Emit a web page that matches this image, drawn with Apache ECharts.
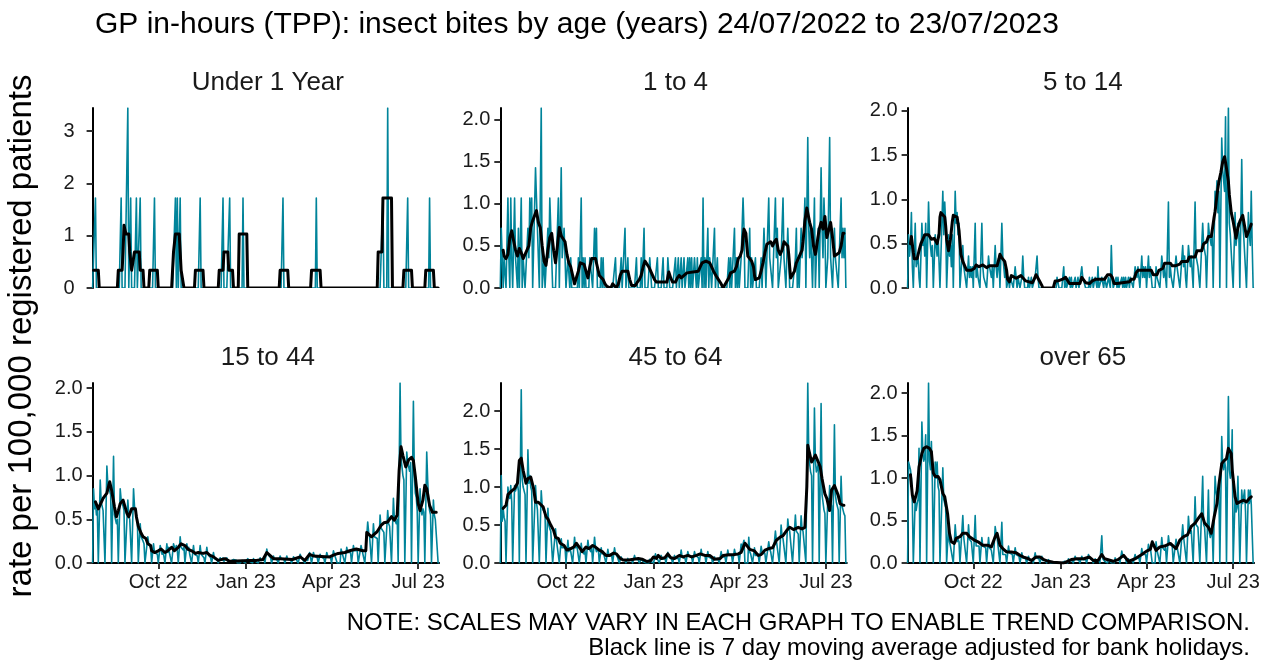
<!DOCTYPE html>
<html><head><meta charset="utf-8">
<script src="https://cdn.jsdelivr.net/npm/echarts@6/dist/echarts.min.js"></script>
<style>html,body{margin:0;padding:0;background:#fff}#c{width:1264px;height:660px}</style>
</head><body><div id="c"></div>
<script>
const mainTitle = 'GP in-hours (TPP): insect bites by age (years) 24/07/2022 to 23/07/2023';
const yAxisTitle = 'rate per 100,000 registered patients';
const footNote1 = 'NOTE: SCALES MAY VARY IN EACH GRAPH TO ENABLE TREND COMPARISON.';
const footNote2 = 'Black line is 7 day moving average adjusted for bank holidays.';
const startDate = '2022-07-24';
const panelNames = ['Under 1 Year', '1 to 4', '5 to 14', '15 to 44', '45 to 64', 'over 65'];
const xTickDates = ['2022-10-01', '2023-01-01', '2023-04-01', '2023-07-01'];
const xTickLabels = ['Oct 22', 'Jan 23', 'Apr 23', 'Jul 23'];
const yTicksUnder1 = [0, 1, 2, 3];
const yTicksOther = [0, 0.5, 1, 1.5, 2];

// daily rates, one line per week (Sun..Sat), starting Sun 24/07/2022
const dailyUnder1 = [
0,0,0,1.72,0,0,0,
0,0,0,0,0,0,0,
0,0,0,0,0,0,0,
0,0,0,0,0,0,0,
0,0,1.72,0,0,0,0,
0,0,3.44,0,0,1.72,0,
0,0,0,0,1.72,0,0,
0,1.72,0,0,0,0,0,
0,0,0,0,0,0,0,
0,0,1.72,0,0,0,0,
0,0,0,0,0,0,0,
0,0,0,0,0,0,0,
0,0,0,1.72,0,1.72,0,
0,1.72,0,0,0,0,0,
0,0,0,0,0,0,0,
0,0,0,0,0,0,0,
0,1.72,0,0,0,0,0,
0,0,0,0,0,0,0,
0,0,0,0,0,0,0,
0,0,0,0,1.72,0,0,
0,0,0,0,1.72,0,0,
0,0,0,0,0,0,0,
0,0,0,0,1.72,0,0,
0,0,0,0,0,0,0,
0,0,0,0,0,0,0,
0,0,0,0,0,0,0,
0,0,0,0,0,0,0,
0,0,0,0,0,0,0,
0,0,0,0,1.72,0,0,
0,0,0,0,0,0,0,
0,0,0,0,0,0,0,
0,0,0,0,0,0,0,
0,0,0,0,0,0,0,
0,0,0,0,1.72,0,0,
0,0,0,0,0,0,0,
0,0,0,0,0,0,0,
0,0,0,0,0,0,0,
0,0,0,0,0,0,0,
0,0,0,0,0,0,0,
0,0,0,0,0,0,0,
0,0,0,0,0,0,0,
0,0,0,0,0,0,0,
0,0,0,0,0,0,0,
0,0,0,0,1.72,0,0,
0,0,3.44,0,0,0,0,
0,0,0,0,0,0,0,
0,0,0,0,0,0,0,
0,0,1.72,0,0,0,0,
0,0,0,0,0,0,0,
0,0,0,0,0,0,0,
0,0,0,0,1.72,0,0,
0,0,0,0,0,0,0,
0];

const daily1to4 = [
0,0.71,0.71,0,0.36,0.36,0,
0,1.07,0.36,0,1.07,0.36,0,
0,1.07,0.36,0.36,0,0.71,0,
0,1.07,0,0.36,0.36,0,0,
0,0.71,0.36,1.07,0.71,1.07,0,
0,0,1.43,1.07,0.71,0.36,0,
0,2.14,0,0,0.36,0,0,
0,0.71,0.36,1.07,0.71,0.36,0,
0,0,0,0.36,0.71,1.07,0,
0,1.43,0.36,0.36,0.71,0.36,0,
0,0.36,0.36,0,0.36,0,0,
0,0,0,0,0,0.36,0,
0,1.07,0,0.36,0,0.36,0,
0,0,0,0.36,0.36,0.36,0,
0,0.71,0.36,0.71,0,0,0,
0,0.36,0,0.36,0,0,0,
0,0,0,0,0,0,0,
0,0,0.36,0,0,0,0,
0,0.36,0,0,0,0.71,0,
0,0.36,0,0,0,0,0,
0,0,0,0.36,0,0,0,
0,0.36,0,0.36,0.71,0,0,
0,0,0,0.36,0.36,0,0,
0,0,0,0,0.36,0,0,
0,0,0,0.36,0,0,0,
0,0.36,0.36,0,0,0,0,
0,0,0.36,0,0,0.36,0,
0,0.36,0,0,0.36,0,0,
0,0.36,0,0.36,0,0.36,0,
0,0.36,0.36,0,0.36,0,0,
0,0.36,0,1.07,0,0.36,0,
0,0.71,0,0.36,0.36,0,0,
0,0.71,0,0,0.36,0,0,
0,0,0,0,0,0,0,
0,0,0.36,0,0.36,0,0,
0,0.71,0,0.36,0,0.36,0,
0,0.36,0.71,1.07,0.71,0,0,
0,0,0.36,0.71,0,0.36,0,
0,0,0.36,0,0,0,0,
0,0.36,0,0.36,0.71,0.36,0,
0,0,1.07,0.36,0.36,0.36,0,
0,0,1.07,0.36,0.71,0,0,
0,0.36,0.36,1.07,0.36,0.36,0,
0,0.71,0.36,0,0,0,0,
0,0,0.36,0.71,0,0.36,0,
0,0.71,0.36,0.36,0.71,1.07,0,
0,1.79,0.71,0.36,0.71,0.36,0,
0,1.07,0,0.36,0.36,0.71,0,
0,1.43,0.71,0.36,1.07,0.71,0,
0,0.36,0.36,1.79,0.36,0.36,0,
0,0.71,0.36,0.36,0.36,0,0,
0,1.07,0.36,0.71,0.36,0.71,0,
0];

const daily5to14 = [
0,0.6,0.36,0.48,0.85,0.24,0,
0,0.73,0.24,0.24,0.36,0.12,0,
0,0.73,0.48,0.6,0.36,0.73,0,
0,0.97,0.6,0.48,0.36,0.48,0,
0,0.6,0.48,0.36,0.6,0.6,0,
0,0,1.09,0.6,0.97,0.73,0,
0,0.6,0.36,0.48,0.24,0.6,0,
0,1.09,0.73,0.85,0.6,0.73,0,
0,0,0.48,0.24,0.24,0.24,0,
0,0.36,0.12,0.24,0.12,0.24,0,
0,0.73,0.12,0.24,0.12,0.12,0,
0,0.73,0.24,0.12,0.12,0.12,0,
0,0.36,0.24,0.24,0.12,0.24,0,
0,0.48,0.24,0.12,0.24,0.36,0,
0,0.73,0.36,0.24,0.12,0.24,0,
0,0.12,0,0.12,0.12,0.12,0,
0,0.24,0.12,0,0.12,0.12,0,
0,0.12,0.36,0.12,0,0,0,
0,0.12,0,0,0.12,0,0,
0,0.12,0.12,0.36,0.12,0,0,
0,0,0,0,0,0,0,
0,0,0,0,0,0,0,
0,0,0,0.12,0.12,0,0,
0,0,0.12,0.24,0,0.12,0,
0,0,0.12,0,0.12,0,0,
0,0.12,0,0,0.12,0,0,
0,0.24,0.12,0.12,0.12,0,0,
0,0,0.12,0,0,0.12,0,
0,0.12,0.12,0,0.24,0,0,
0,0.12,0.12,0,0.12,0.12,0,
0,0.12,0.12,0,0.48,0.12,0,
0,0,0.12,0,0.12,0,0,
0,0.12,0,0.12,0,0.12,0,
0,0.12,0,0.12,0.12,0.12,0,
0,0.24,0.24,0.12,0.24,0.12,0,
0,0.36,0.12,0.24,0.12,0.24,0,
0,0.36,0.12,0.24,0.12,0,0,
0,0,0.24,0.12,0.12,0.12,0,
0,0.36,0.24,0.12,0.24,0.24,0,
0,0.97,0.12,0.24,0.12,0.12,0,
0,0,0.36,0.24,0.24,0.24,0,
0,0,0.48,0.24,0.36,0.12,0,
0,0.48,0.36,0.24,0.36,0.36,0,
0,0.97,0.36,0.36,0.24,0.24,0,
0,0,0.73,0.48,0.48,0.36,0,
0,0.73,0.6,0.6,0.48,0.6,0,
0,1.09,0.97,1.21,0.85,1.09,0,
0,1.69,1.33,1.33,1.09,1.93,0,
0,2.03,0.73,0.6,0.6,0.6,0,
0,0.85,0.48,0.6,0.73,0.6,0,
0,1.45,0.73,0.6,0.6,0.6,0,
0,0.85,0.6,0.48,1.09,0.48,0,
0];

const daily15to44 = [
0,0.85,0.62,0.7,0.55,0.6,0,
0,0.95,0.7,0.65,0.6,0.58,0,
0,1.11,0.9,0.85,0.82,0.78,0,
0,1.22,0.55,0.5,0.45,0.5,0,
0,0.85,0.72,0.68,0.65,0.6,0,
0,0,0.72,0.55,0.5,0.48,0,
0,0.85,0.65,0.6,0.55,0.5,0,
0,0.45,0.3,0.28,0.25,0.22,0,
0,0,0.3,0.22,0.2,0.18,0,
0,0.22,0.12,0.14,0.1,0.1,0,
0,0.2,0.15,0.1,0.14,0.12,0,
0,0.22,0.12,0.18,0.1,0.12,0,
0,0.22,0.18,0.15,0.2,0.14,0,
0,0.3,0.18,0.2,0.15,0.18,0,
0,0.22,0.15,0.18,0.1,0.12,0,
0,0.2,0.1,0.08,0.12,0.08,0,
0,0.2,0.1,0.12,0.08,0.06,0,
0,0.18,0.1,0.08,0.1,0.06,0,
0,0.12,0.05,0.04,0.06,0.03,0,
0,0.06,0.05,0.03,0.06,0.02,0,
0,0.06,0.02,0.03,0.02,0.02,0,
0,0.04,0.02,0.02,0.03,0,0,
0,0,0,0.03,0.02,0.02,0,
0,0,0.05,0.03,0.02,0.03,0,
0,0.05,0.04,0.02,0.03,0.02,0,
0,0.06,0.03,0.04,0.02,0.04,0,
0,0.16,0.1,0.08,0.1,0.06,0,
0,0.08,0.05,0.04,0.05,0.03,0,
0,0.08,0.05,0.04,0.05,0.04,0,
0,0.08,0.04,0.06,0.03,0.04,0,
0,0.07,0.05,0.05,0.04,0.04,0,
0,0.1,0.08,0.05,0.06,0.05,0,
0,0.06,0.03,0.08,0.12,0.1,0,
0,0.12,0.08,0.06,0.07,0.06,0,
0,0.1,0.07,0.06,0.07,0.05,0,
0,0.12,0.08,0.06,0.08,0.06,0,
0,0.14,0.1,0.08,0.1,0,0,
0,0,0.16,0.12,0.1,0.1,0,
0,0.18,0.12,0.14,0.1,0.12,0,
0,0.2,0.14,0.15,0.12,0.14,0,
0,0,0.2,0.15,0.13,0.14,0,
0,0,0.47,0.35,0.3,0.3,0,
0,0.45,0.3,0.28,0.32,0.28,0,
0,0.55,0.4,0.42,0.38,0.35,0,
0,0,0.6,0.45,0.42,0.4,0,
0,0.74,0.5,0.48,0.45,0.5,0,
0,2.06,1.2,1.1,1.0,0.95,0,
0,1.27,1.15,1.1,1.05,1.15,0,
0,1.85,1.0,0.8,0.75,0.6,0,
0,0.85,0.6,0.55,0.62,0.58,0,
0,1.27,0.95,0.7,0.6,0.55,0,
0,0.72,0.55,0.5,0.52,0.5,0,
0];

const daily45to64 = [
0,1.15,0.55,0.72,0.6,0.55,0,
0,1.0,0.9,0.85,1.02,0.8,0,
0,1.02,0.95,1.0,1.05,0.95,0,
0,2.28,1.1,1.0,1.02,0.9,0,
0,1.49,1.05,1.15,1.0,0.95,0,
0,0,1.02,0.8,0.7,0.72,0,
0,0.95,0.75,0.7,0.68,0.65,0,
0,0.72,0.5,0.45,0.42,0.4,0,
0,0,0.45,0.3,0.3,0.28,0,
0,0.32,0.2,0.22,0.18,0.2,0,
0,0.3,0.15,0.2,0.15,0.15,0,
0,0.34,0.2,0.25,0.18,0.18,0,
0,0.26,0.15,0.15,0.12,0.16,0,
0,0.3,0.2,0.18,0.15,0.2,0,
0,0.34,0.2,0.15,0.15,0.18,0,
0,0.2,0.12,0.15,0.1,0.08,0,
0,0.18,0.1,0.08,0.1,0.1,0,
0,0.2,0.12,0.1,0.08,0.1,0,
0,0.08,0.05,0.04,0.05,0.03,0,
0,0.06,0.03,0.05,0.03,0.04,0,
0,0.1,0.05,0.05,0.06,0.04,0,
0,0.05,0.03,0.02,0.03,0.02,0,
0,0,0,0.05,0.02,0.03,0,
0,0,0.12,0.08,0.06,0.08,0,
0,0.1,0.05,0.06,0.04,0.06,0,
0,0.14,0.08,0.06,0.06,0.05,0,
0,0.1,0.06,0.08,0.05,0.06,0,
0,0.17,0.08,0.06,0.08,0.06,0,
0,0.15,0.1,0.08,0.1,0.08,0,
0,0.15,0.1,0.08,0.1,0.07,0,
0,0.18,0.1,0.1,0.08,0.1,0,
0,0.15,0.08,0.08,0.07,0.06,0,
0,0.08,0.05,0.04,0.05,0.04,0,
0,0.15,0.08,0.08,0.07,0.08,0,
0,0.17,0.1,0.1,0.08,0.1,0,
0,0.18,0.12,0.1,0.1,0.1,0,
0,0.25,0.2,0.22,0.3,0,0,
0,0,0.34,0.15,0.12,0.12,0,
0,0.2,0.1,0.12,0.08,0.1,0,
0,0.22,0.15,0.12,0.15,0.12,0,
0,0,0.28,0.18,0.15,0.16,0,
0,0,0.42,0.3,0.3,0.28,0,
0,0.5,0.35,0.32,0.3,0.32,0,
0,0.58,0.45,0.42,0.4,0.4,0,
0,0,0.63,0.42,0.4,0.38,0,
0,0.62,0.45,0.42,0.4,0.43,0,
0,2.37,1.5,1.3,1.2,1.15,0,
0,2.04,1.35,1.2,1.25,1.3,0,
0,2.1,0.9,0.8,0.7,0.65,0,
0,0.85,0.7,1.02,0.8,0.75,0,
0,1.82,0.9,0.8,0.75,0.7,0,
0,1.14,0.75,0.7,0.65,0.62,0,
0];

const dailyOver65 = [
0,1.19,1.19,1.1,1.0,0.7,0,
0,0.75,0.62,0.7,0.75,1.35,0,
0,1.66,1.3,1.2,1.25,1.51,0,
0,2.12,1.2,1.1,1.43,0.95,0,
0,1.19,1.0,1.19,0.9,0.85,0,
0,0,1.12,0.75,0.7,0.65,0,
0,0.45,0.25,0.2,0.22,0.2,0,
0,0.45,0.3,0.25,0.28,0.25,0,
0,0,0.56,0.3,0.28,0.3,0,
0,0.45,0.28,0.3,0.25,0.25,0,
0,0.56,0.2,0.2,0.18,0.2,0,
0,0.3,0.2,0.18,0.2,0.18,0,
0,0.3,0.18,0.2,0.15,0.17,0,
0,0.43,0.35,0.3,0.28,0.3,0,
0,0.48,0.1,0.12,0.08,0.1,0,
0,0.2,0.12,0.1,0.12,0.1,0,
0,0.18,0.1,0.08,0.1,0.08,0,
0,0.12,0.06,0.05,0.07,0.05,0,
0,0.08,0.03,0.03,0.02,0.04,0,
0,0.12,0.06,0.07,0.05,0.05,0,
0,0.08,0.03,0.03,0.02,0.03,0,
0,0.04,0.02,0,0.02,0,0,
0,0,0,0,0,0,0,
0,0,0,0,0.02,0,0,
0,0.05,0.02,0.03,0.02,0.03,0,
0,0.08,0.05,0.04,0.05,0.03,0,
0,0.08,0.04,0.05,0.04,0.04,0,
0,0.1,0.06,0.05,0.05,0.04,0,
0,0.05,0.02,0.03,0.02,0.03,0,
0,0.32,0.05,0.03,0.02,0.02,0,
0,0.04,0.02,0.02,0,0.02,0,
0,0.06,0.03,0.04,0.03,0.04,0,
0,0.14,0.08,0.06,0.07,0.05,0,
0,0.05,0.02,0.03,0.02,0.03,0,
0,0.1,0.05,0.06,0.05,0.06,0,
0,0.17,0.1,0.1,0.09,0.1,0,
0,0.22,0.15,0.18,0.2,0,0,
0,0,0.25,0.15,0.15,0.14,0,
0,0.3,0.18,0.2,0.15,0.18,0,
0,0.32,0.22,0.2,0.22,0.2,0,
0,0,0.28,0.2,0.18,0.2,0,
0,0,0.45,0.3,0.28,0.3,0,
0,0.55,0.4,0.35,0.38,0.36,0,
0,0.78,0.45,0.45,0.42,0.4,0,
0,0,1.02,0.45,0.42,0.4,0,
0,0.86,0.35,0.3,0.32,0.4,0,
0,1.02,0.85,0.78,0.8,0.9,0,
0,1.49,1.15,1.1,1.2,1.12,0,
0,1.96,1.1,1.0,1.05,1.57,0,
0,0.78,0.6,0.65,1.02,0.55,0,
0,0.86,0.7,0.68,0.86,0.6,0,
0,0.86,0.7,0.86,0.7,0.68,0,
0];

// 7 day moving average: [day since 24/07/2022, rate]
const maUnder1 = [[1,0.34],[6,0.34],[7,0],[26,0],[27,0.34],[31,0.34],[32,0.69],[33,1.2],[34,1.2],[35,1.03],[38,1.03],[39,0.69],[40,0.69],[41,0.34],[43,0.34],[44,0.69],[49,0.69],[50,0.34],[53,0.34],[54,0],[59,0],[60,0.34],[68,0.34],[69,0],[83,0],[84,0.34],[85,0.69],[86,0.69],[87,1.03],[91,1.03],[92,0.69],[93,0.34],[95,0.34],[96,0],[107,0],[108,0.34],[116,0.34],[117,0],[132,0],[133,0.34],[137,0.34],[138,0.69],[142,0.69],[143,0.34],[147,0.34],[148,0],[153,0],[154,1.03],[162,1.03],[163,0],[196,0],[197,0.34],[205,0.34],[206,0],[229,0],[230,0.34],[239,0.34],[240,0],[299,0],[300,0.69],[304,0.69],[305,1.72],[314,1.72],[315,0],[326,0],[327,0.34],[335,0.34],[336,0],[349,0],[350,0.34],[358,0.34],[359,0],[363,0]];
const ma1to4 = [[3,0.45],[4,0.38],[6,0.35],[8,0.4],[10,0.6],[12,0.68],[14,0.56],[16,0.45],[18,0.38],[20,0.47],[22,0.42],[24,0.35],[26,0.4],[28,0.45],[30,0.5],[32,0.72],[34,0.8],[36,0.8],[38,0.92],[40,0.78],[42,0.72],[44,0.5],[46,0.32],[48,0.27],[50,0.45],[52,0.6],[54,0.65],[56,0.45],[58,0.3],[60,0.5],[62,0.72],[64,0.62],[66,0.6],[68,0.55],[70,0.4],[72,0.3],[74,0.25],[76,0.15],[78,0.05],[80,0.05],[82,0.2],[84,0.3],[86,0.3],[88,0.28],[90,0.2],[92,0.12],[94,0.25],[96,0.35],[98,0.33],[100,0.35],[102,0.25],[104,0.15],[106,0.15],[108,0.1],[110,0.05],[112,0.02],[114,0],[116,0],[118,0.05],[120,0.05],[122,0],[124,0.05],[126,0.15],[128,0.2],[130,0.2],[134,0.2],[136,0.1],[138,0.03],[140,0.05],[142,0.03],[144,0.07],[146,0.1],[148,0.15],[150,0.25],[152,0.32],[154,0.3],[156,0.25],[158,0.2],[160,0.15],[162,0.1],[164,0.07],[175,0.07],[177,0.19],[179,0.12],[181,0.07],[184,0.07],[186,0.12],[188,0.15],[190,0.12],[193,0.15],[196,0.18],[198,0.2],[208,0.2],[210,0.25],[212,0.3],[216,0.32],[220,0.3],[222,0.25],[224,0.2],[226,0.18],[228,0.12],[230,0.1],[232,0.05],[234,0],[236,0.02],[238,0.08],[240,0.12],[242,0.18],[244,0.2],[246,0.2],[248,0.25],[250,0.35],[252,0.38],[254,0.45],[255,0.6],[256,0.7],[258,0.65],[259,0.5],[260,0.38],[262,0.35],[264,0.32],[266,0.25],[267,0.15],[268,0.1],[270,0.1],[272,0.12],[274,0.2],[276,0.3],[278,0.42],[280,0.52],[284,0.55],[286,0.5],[288,0.55],[290,0.58],[292,0.45],[294,0.4],[296,0.45],[298,0.55],[302,0.5],[303,0.4],[304,0.25],[305,0.12],[307,0.1],[309,0.2],[311,0.3],[313,0.35],[315,0.4],[317,0.45],[318,0.55],[320,0.8],[322,0.95],[323,0.95],[325,0.78],[327,0.7],[329,0.5],[331,0.4],[333,0.55],[335,0.7],[337,0.78],[339,0.7],[341,0.85],[343,0.6],[345,0.6],[347,0.78],[349,0.6],[351,0.38],[353,0.38],[356,0.42],[358,0.5],[360,0.65],[361,0.65]];
const ma5to14 = [[3,0.5],[4,0.58],[6,0.4],[7,0.33],[10,0.33],[12,0.42],[14,0.5],[16,0.55],[18,0.6],[20,0.62],[22,0.6],[25,0.55],[28,0.56],[31,0.5],[32,0.52],[33,0.6],[34,0.8],[35,0.85],[37,0.84],[39,0.8],[40,0.7],[41,0.55],[43,0.42],[45,0.55],[47,0.75],[48,0.82],[52,0.8],[53,0.78],[54,0.65],[56,0.38],[58,0.3],[60,0.25],[62,0.2],[67,0.2],[70,0.22],[72,0.26],[75,0.24],[79,0.26],[83,0.23],[86,0.25],[90,0.25],[94,0.25],[96,0.33],[97,0.38],[99,0.34],[102,0.3],[104,0.2],[105,0.1],[107,0.07],[109,0.14],[111,0.15],[114,0.11],[116,0.11],[119,0.14],[121,0.13],[124,0.08],[126,0.07],[131,0.06],[133,0.1],[135,0.15],[137,0.14],[139,0.07],[141,0.03],[142,0],[153,0],[155,0.08],[158,0.08],[160,0.1],[163,0.1],[166,0.12],[168,0.1],[170,0.05],[177,0.05],[179,0.07],[181,0.05],[183,0.12],[185,0.13],[187,0.06],[191,0.05],[194,0.08],[196,0.07],[198,0.1],[207,0.1],[210,0.15],[213,0.15],[215,0.12],[217,0.05],[220,0.05],[222,0.07],[233,0.07],[235,0.1],[238,0.1],[240,0.17],[242,0.2],[256,0.2],[258,0.15],[262,0.15],[264,0.2],[266,0.22],[268,0.22],[270,0.28],[276,0.28],[278,0.25],[281,0.25],[283,0.27],[286,0.27],[288,0.3],[294,0.3],[296,0.35],[302,0.35],[304,0.42],[309,0.42],[311,0.5],[314,0.52],[316,0.58],[319,0.58],[320,0.65],[322,0.8],[323,0.86],[325,1.05],[327,1.2],[329,1.3],[331,1.42],[333,1.48],[335,1.35],[337,1.2],[338,1.05],[340,0.85],[342,0.75],[344,0.63],[345,0.56],[347,0.68],[349,0.75],[352,0.82],[354,0.7],[356,0.58],[357,0.56],[359,0.66],[361,0.72]];
const ma15to44 = [[3,0.7],[4,0.68],[6,0.62],[8,0.6],[11,0.74],[15,0.8],[17,0.89],[18,0.93],[20,0.83],[23,0.64],[25,0.53],[27,0.6],[29,0.68],[32,0.72],[34,0.71],[36,0.57],[38,0.53],[41,0.62],[43,0.64],[45,0.62],[46,0.53],[48,0.42],[51,0.34],[53,0.3],[56,0.28],[58,0.22],[61,0.2],[62,0.14],[65,0.12],[69,0.14],[72,0.16],[76,0.12],[79,0.14],[83,0.18],[86,0.14],[90,0.18],[93,0.22],[97,0.2],[100,0.16],[104,0.14],[108,0.11],[111,0.12],[116,0.11],[120,0.12],[123,0.09],[127,0.07],[132,0.03],[134,0.04],[139,0.05],[144,0.02],[165,0.03],[172,0.03],[179,0.04],[183,0.12],[186,0.09],[190,0.05],[197,0.05],[210,0.04],[218,0.07],[223,0.03],[228,0.1],[232,0.08],[249,0.07],[253,0.09],[258,0.11],[265,0.12],[270,0.14],[277,0.16],[284,0.14],[287,0.14],[288,0.35],[290,0.35],[293,0.3],[296,0.33],[299,0.36],[303,0.43],[306,0.46],[310,0.47],[314,0.53],[317,0.49],[320,0.55],[322,1.06],[324,1.33],[326,1.23],[329,1.1],[332,1.18],[335,1.21],[337,1.17],[339,0.99],[342,0.68],[344,0.6],[347,0.72],[349,0.89],[351,0.85],[354,0.66],[357,0.58],[359,0.56],[361,0.58]];
const ma45to64 = [[3,0.72],[6,0.76],[8,0.9],[12,0.95],[15,0.98],[18,1.05],[20,1.35],[22,1.38],[24,1.22],[27,1.05],[29,1.11],[32,1.13],[35,0.98],[37,0.8],[40,0.8],[42,0.82],[45,0.74],[48,0.61],[50,0.58],[53,0.5],[56,0.43],[58,0.34],[61,0.32],[63,0.26],[67,0.23],[70,0.17],[74,0.19],[77,0.21],[80,0.26],[84,0.19],[86,0.15],[90,0.21],[93,0.19],[97,0.23],[100,0.21],[104,0.17],[107,0.15],[111,0.1],[115,0.1],[119,0.13],[122,0.12],[126,0.06],[129,0.04],[135,0.04],[140,0.05],[145,0.06],[149,0.05],[154,0.02],[158,0.03],[161,0.08],[164,0.06],[166,0.1],[169,0.06],[173,0.07],[176,0.12],[179,0.07],[183,0.06],[188,0.1],[192,0.08],[197,0.1],[201,0.08],[206,0.1],[210,0.12],[215,0.1],[220,0.1],[225,0.05],[231,0.06],[234,0.1],[240,0.11],[245,0.11],[250,0.12],[253,0.14],[257,0.26],[259,0.23],[262,0.18],[267,0.16],[271,0.1],[274,0.11],[278,0.17],[282,0.19],[286,0.2],[290,0.3],[294,0.34],[297,0.36],[301,0.43],[304,0.47],[308,0.44],[313,0.47],[317,0.45],[320,0.47],[322,1.0],[323,1.55],[325,1.53],[327,1.33],[329,1.31],[331,1.42],[333,1.44],[336,1.27],[338,1.11],[341,0.91],[343,0.85],[346,0.69],[348,0.96],[351,1.02],[353,1.0],[355,0.89],[357,0.78],[360,0.76],[361,0.76]];
const maOver65 = [[3,1.04],[5,0.8],[7,0.72],[8,0.7],[10,0.85],[12,1.13],[15,1.29],[17,1.35],[20,1.37],[23,1.35],[25,1.31],[27,1.06],[29,1.02],[32,1.02],[34,0.98],[37,0.82],[39,0.78],[42,0.58],[44,0.35],[46,0.25],[49,0.23],[51,0.29],[55,0.31],[58,0.35],[62,0.35],[65,0.31],[70,0.27],[74,0.25],[79,0.21],[84,0.21],[88,0.19],[92,0.31],[94,0.35],[97,0.21],[100,0.17],[104,0.13],[109,0.13],[114,0.12],[118,0.09],[122,0.07],[127,0.05],[130,0.03],[135,0.07],[139,0.07],[143,0.04],[148,0.02],[153,0.01],[155,0],[164,0],[172,0.04],[178,0.05],[185,0.05],[191,0.07],[195,0.03],[200,0.03],[204,0.1],[207,0.05],[216,0.02],[221,0.04],[227,0.09],[232,0.02],[239,0.05],[246,0.1],[251,0.14],[255,0.16],[257,0.25],[261,0.15],[265,0.19],[270,0.2],[276,0.23],[278,0.24],[282,0.17],[286,0.27],[290,0.31],[294,0.33],[298,0.43],[302,0.47],[305,0.52],[309,0.58],[312,0.47],[316,0.42],[319,0.35],[322,0.54],[325,0.7],[327,0.92],[330,1.17],[332,1.2],[335,1.23],[337,1.35],[340,1.29],[341,1.1],[344,0.78],[346,0.7],[349,0.72],[353,0.74],[356,0.72],[359,0.76],[361,0.78]];

// ---------- build chart ----------
const FONT = '"Liberation Sans", Arial, Helvetica, sans-serif';
const TEAL = '#00849A';
const DAYMS = 86400000;
const t0 = Date.parse(startDate);
const xTickDays = xTickDates.map(d => Math.round((Date.parse(d) - t0) / DAYMS));
const nDays = dailyUnder1.length;

const panels = [
  { daily: dailyUnder1, ma: maUnder1, ticks: yTicksUnder1, dec: 0 },
  { daily: daily1to4, ma: ma1to4, ticks: yTicksOther, dec: 1 },
  { daily: daily5to14, ma: ma5to14, ticks: yTicksOther, dec: 1 },
  { daily: daily15to44, ma: ma15to44, ticks: yTicksOther, dec: 1 },
  { daily: daily45to64, ma: ma45to64, ticks: yTicksOther, dec: 1 },
  { daily: dailyOver65, ma: maOver65, ticks: yTicksOther, dec: 1 }
];

const colLeft = [92.6, 500.3, 907.6];
const rowTop = [108, 383];
const plotW = 346.5, plotH = 180;

const grid = [], xAxis = [], yAxis = [], series = [], graphic = [];
panels.forEach((p, i) => {
  const r = Math.floor(i / 3), c = i % 3;
  const bottomRow = r === 1;
  grid.push({ left: colLeft[c], top: rowTop[r], width: plotW, height: plotH, containLabel: false, outerBoundsMode: 'none' });
  xAxis.push({
    gridIndex: i, type: 'value', min: 0, max: nDays - 1,
    axisLine: { show: bottomRow, onZero: false, lineStyle: { color: '#000', width: 2 } },
    axisTick: { show: bottomRow, customValues: xTickDays, length: 6, lineStyle: { color: '#333', width: 2 } },
    axisLabel: { show: bottomRow, customValues: xTickDays, margin: 9, fontSize: 20, fontFamily: FONT, color: '#1a1a1a',
      formatter: v => { const k = xTickDays.indexOf(Math.round(v)); return k >= 0 ? xTickLabels[k] : ''; } },
    splitLine: { show: false }
  });
  const ymax = Math.max(...p.daily);
  yAxis.push({
    gridIndex: i, type: 'value', min: 0, max: ymax,
    axisLine: { show: true, lineStyle: { color: '#000', width: 2 } },
    axisTick: { show: true, customValues: p.ticks, length: 6, lineStyle: { color: '#333', width: 2 } },
    axisLabel: { show: true, customValues: p.ticks, margin: i === 0 ? 18 : 10, fontSize: 20, fontFamily: FONT, color: '#1a1a1a',
      formatter: v => Number(v).toFixed(p.dec) },
    splitLine: { show: false }
  });
  series.push({
    type: 'line', xAxisIndex: i, yAxisIndex: i, showSymbol: false, symbol: 'none', silent: true,
    data: p.daily.map((v, d) => [d, v]),
    lineStyle: { color: TEAL, width: 1.6, join: 'round' }, z: 2
  });
  series.push({
    type: 'line', xAxisIndex: i, yAxisIndex: i, showSymbol: false, symbol: 'none', silent: true,
    data: p.ma,
    lineStyle: { color: '#000', width: 3, join: 'round', cap: 'round' }, z: 3
  });
  graphic.push({
    type: 'text', x: colLeft[c] + plotW / 2 + 2, y: rowTop[r] - 25,
    style: { text: panelNames[i], fontSize: 26, fontFamily: FONT, fill: '#1a1a1a',
      align: 'center', verticalAlign: 'middle', textAlign: 'center', textVerticalAlign: 'middle' }
  });
  if (!bottomRow) {
    // panel clips at y = 0 in the original, so lines lying on zero show only their upper half
    graphic.push({ type: 'rect', z: 100, silent: true,
      shape: { x: colLeft[c] + 1.5, y: rowTop[r] + plotH, width: plotW + 6, height: 5 },
      style: { fill: '#fff' } });
  }
});

graphic.push({ type: 'text', x: 95, y: 25,
  style: { text: mainTitle, fontSize: 30, fontFamily: FONT, fill: '#000', align: 'left', verticalAlign: 'middle', textAlign: 'left', textVerticalAlign: 'middle' } });
graphic.push({ type: 'text', x: 22, y: 336, rotation: Math.PI / 2,
  style: { text: yAxisTitle, fontSize: 33, fontFamily: FONT, fill: '#000', align: 'center', verticalAlign: 'middle', textAlign: 'center', textVerticalAlign: 'middle' } });
graphic.push({ type: 'text', x: 1250, y: 623,
  style: { text: footNote1, fontSize: 24, fontFamily: FONT, fill: '#000', align: 'right', verticalAlign: 'middle', textAlign: 'right', textVerticalAlign: 'middle' } });
graphic.push({ type: 'text', x: 1250, y: 648,
  style: { text: footNote2, fontSize: 24, fontFamily: FONT, fill: '#000', align: 'right', verticalAlign: 'middle', textAlign: 'right', textVerticalAlign: 'middle' } });

const chart = echarts.init(document.getElementById('c'), null, { renderer: 'canvas' });
chart.setOption({ animation: false, backgroundColor: '#fff', grid, xAxis, yAxis, series, graphic });
</script>
</body></html>
